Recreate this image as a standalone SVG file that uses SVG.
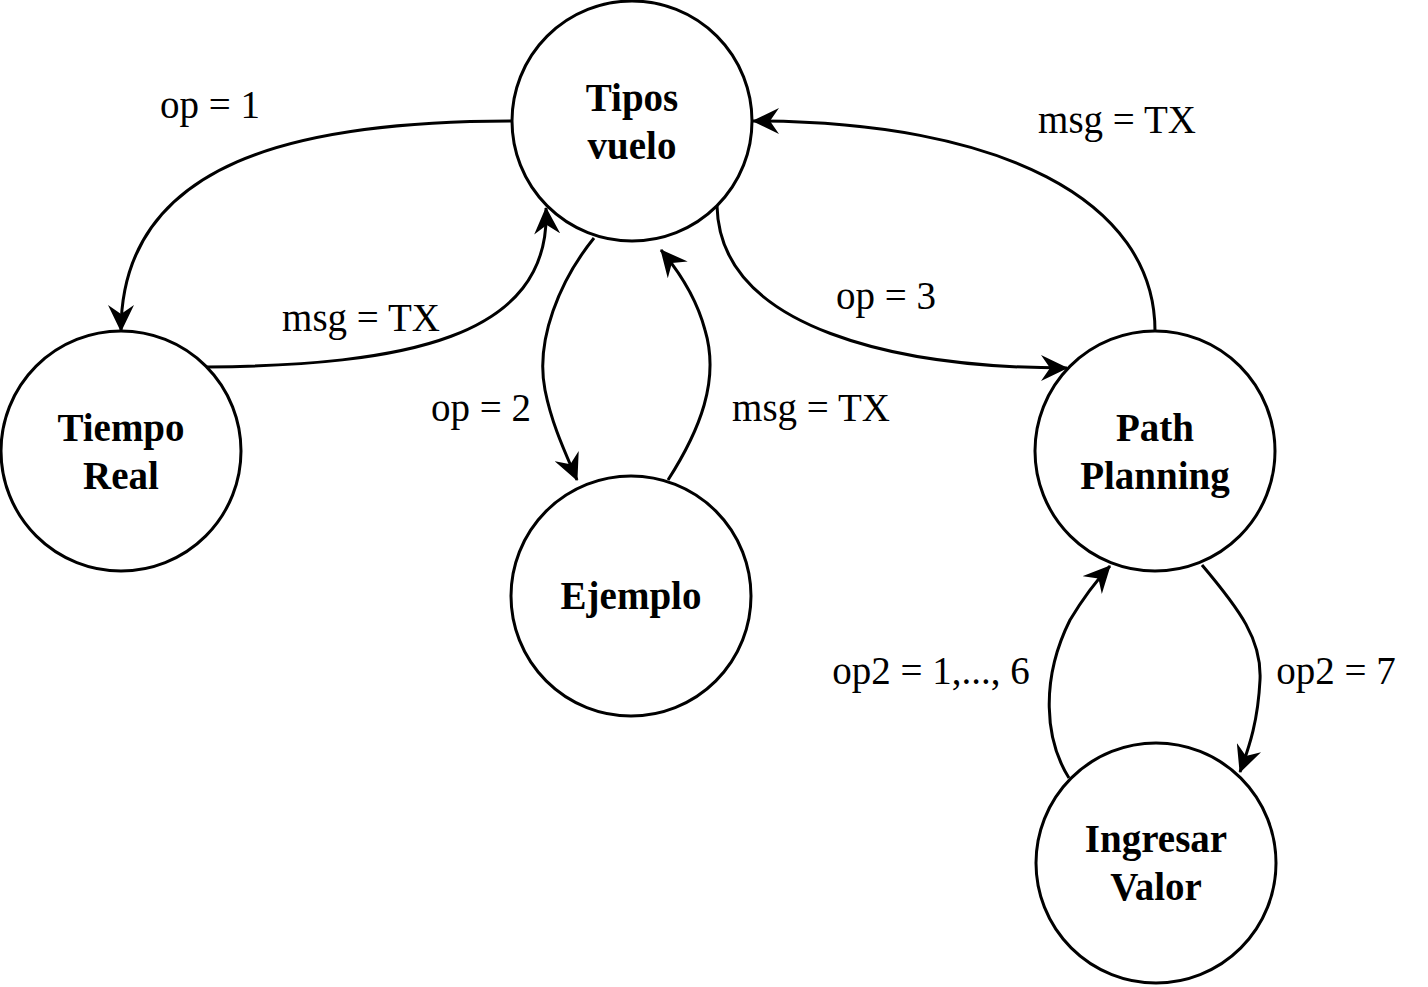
<svg xmlns="http://www.w3.org/2000/svg" width="1428" height="987" viewBox="0 0 1428 987">
<style>
.node circle{fill:#fff;stroke:#000;stroke-width:3}
.node text{font-family:"Liberation Serif","Times New Roman",serif;font-weight:bold;font-size:39px;text-anchor:middle;fill:#000}
.edge path{fill:none;stroke:#000;stroke-width:3}
.lbl{font-family:"Liberation Serif","Times New Roman",serif;font-size:39px;text-anchor:middle;fill:#000}
</style>
<defs>
<marker id="arr" viewBox="0 0 27 26" refX="26" refY="13" markerWidth="27" markerHeight="26" markerUnits="userSpaceOnUse" orient="auto">
<path d="M0,0 L27,13 L0,26 L9,13 Z" fill="#000"/>
</marker>
</defs>
<rect width="1428" height="987" fill="#fff"/>
<g id="tipos" class="node"><circle cx="632" cy="121" r="120"/><text x="632" y="111">Tipos</text><text x="632" y="159">vuelo</text></g>
<g id="tiempo" class="node"><circle cx="121" cy="451" r="120"/><text x="121" y="441">Tiempo</text><text x="121" y="489">Real</text></g>
<g id="ejemplo" class="node"><circle cx="631" cy="596" r="120"/><text x="631" y="609">Ejemplo</text></g>
<g id="path" class="node"><circle cx="1155" cy="451" r="120"/><text x="1155" y="441">Path</text><text x="1155" y="489">Planning</text></g>
<g id="ingresar" class="node"><circle cx="1156" cy="863" r="120"/><text x="1156" y="852">Ingresar</text><text x="1156" y="900">Valor</text></g>
<g id="connectors" class="edge">
<path d="M512,121 C300,121 121,160 121,331" marker-end="url(#arr)"/>
<path d="M207,367 C400,365 552,340 546,208" marker-end="url(#arr)"/>
<path d="M594,238 C560,280 535,340 545,390 C552,425 565,452 577,480" marker-end="url(#arr)"/>
<path d="M668,480 C700,430 720,380 705,330 C697,300 682,275 661,250" marker-end="url(#arr)"/>
<path d="M717,206 C720,330 900,368 1067,368" marker-end="url(#arr)"/>
<path d="M1155,331 C1155,200 1000,121 753,121" marker-end="url(#arr)"/>
<path d="M1202,565 C1240,610 1262,640 1260,680 C1258,720 1250,745 1240,772" marker-end="url(#arr)"/>
<path d="M1069,778 C1045,740 1040,680 1070,620 C1085,595 1097,580 1110,566" marker-end="url(#arr)"/>
</g>
<g id="labels">
<text class="lbl" x="210" y="118">op = 1</text>
<text class="lbl" x="361" y="331">msg = TX</text>
<text class="lbl" x="481" y="421">op = 2</text>
<text class="lbl" x="811" y="421">msg = TX</text>
<text class="lbl" x="886" y="309">op = 3</text>
<text class="lbl" x="1117" y="133">msg = TX</text>
<text class="lbl" x="931" y="684">op2 = 1,..., 6</text>
<text class="lbl" x="1336" y="684">op2 = 7</text>
</g>
</svg>
